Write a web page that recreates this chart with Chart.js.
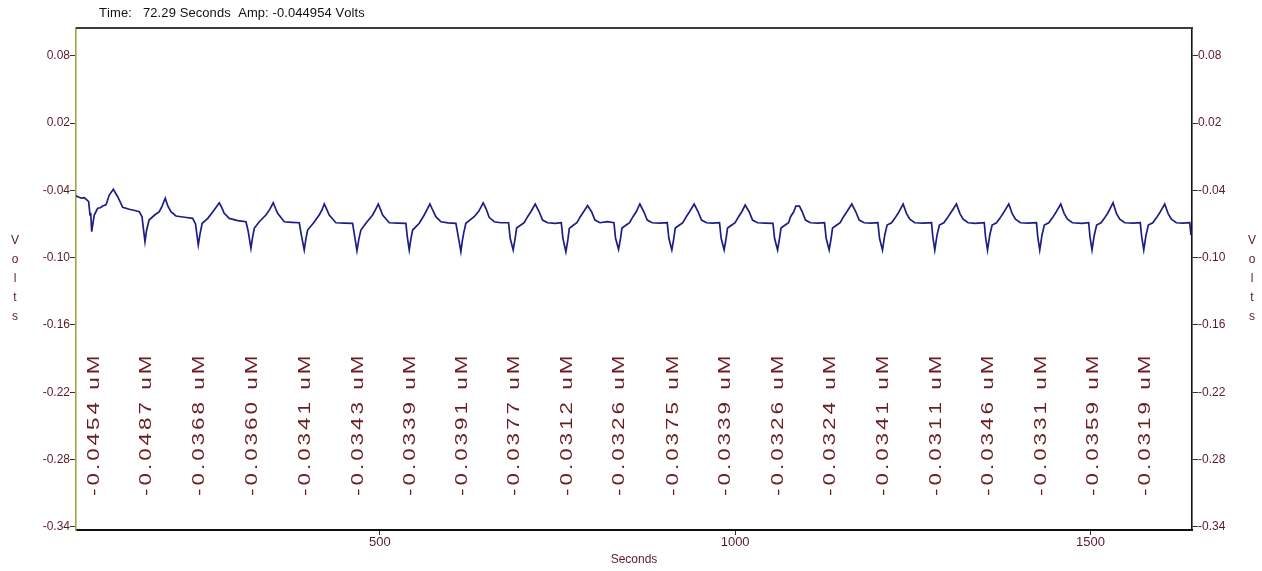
<!DOCTYPE html>
<html>
<head>
<meta charset="utf-8">
<script src="https://cdn.jsdelivr.net/npm/chart.js@4.4.0/dist/chart.umd.min.js"></script>
<style>
  html, body { margin: 0; padding: 0; background: #ffffff; }
  #wrap { width: 1262px; height: 571px; position: relative; }
</style>
</head>
<body>
<div id="wrap"><canvas id="c" width="1262" height="571"></canvas></div>
<script>
// Recorded amperometric trace: time (s) and potential (V)
const traceSeconds = [
  72.29, 76.5, 80.0, 84.0, 86.4, 90.1, 92.0, 93.0, 94.4, 96.0, 98.0, 102.8, 106.5, 109.9, 114.5, 119.1, 124.8, 131.0, 138.0, 147.3, 155.0, 161.4, 165.2, 167.5, 169.4,
  171.5, 175.1, 183.0, 189.5, 193.5, 197.9, 201.5, 205.9, 213.0, 225.0, 236.5, 240.5, 244.4,
  246.8, 249.9, 257.8, 264.9, 269.5, 273.9, 277.5, 280.9, 288.0, 300.0, 311.5, 314.5, 318.5,
  320.8, 323.2, 330.2, 339.6, 345.0, 349.9, 353.0, 356.1, 365.4, 376.0, 386.5, 389.5, 393.5,
  395.9, 398.3, 406.2, 414.6, 418.5, 421.7, 425.2, 428.7, 438.1, 450.0, 461.6, 464.5, 467.7,
  470.5, 473.3, 480.3, 489.8, 494.0, 497.7, 500.8, 503.9, 513.2, 525.0, 536.6, 538.5, 541.3,
  543.7, 546.1, 555.4, 562.4, 566.5, 570.4, 574.6, 578.8, 585.9, 596.0, 607.0, 610.5, 614.0,
  616.0, 618.2, 621.0, 632.7, 639.3, 645.4, 649.2, 653.8, 660.9, 670.0, 681.1, 683.4, 687.6,
  690.4, 692.4, 698.4, 703.1, 707.9, 712.5, 718.6, 724.2, 729.0, 736.0, 747.0, 755.3, 757.6, 761.8,
  764.6, 766.6, 772.6, 777.3, 782.1, 786.7, 792.3, 797.9, 802.7, 809.7, 820.0, 829.4, 831.7, 835.9,
  838.7, 840.7, 846.7, 851.4, 856.2, 860.8, 865.9, 871.5, 876.3, 883.3, 894.0, 904.4, 906.7, 910.9,
  913.7, 915.7, 921.7, 926.4, 931.2, 935.8, 942.3, 947.9, 952.7, 959.7, 968.0, 978.0, 980.3, 984.5,
  987.3, 989.3, 995.3, 1000.0, 1004.8, 1009.4, 1014.1, 1019.7, 1024.5, 1031.5, 1042.0, 1053.2, 1055.5, 1059.7,
  1062.5, 1064.5, 1070.5, 1075.2, 1078.0, 1082.5, 1085.5, 1090.5, 1094.5, 1099.0, 1106.0, 1116.0, 1125.8, 1128.1, 1132.3,
  1135.1, 1137.1, 1143.1, 1147.8, 1152.6, 1157.2, 1164.2, 1169.8, 1174.6, 1181.6, 1191.0, 1200.9, 1203.2, 1207.4,
  1210.6, 1213.9, 1220.1, 1224.7, 1229.4, 1236.4, 1241.1, 1245.8, 1252.8, 1265.0, 1276.4, 1278.2, 1281.0,
  1284.2, 1287.5, 1293.7, 1298.3, 1303.0, 1311.5, 1316.2, 1320.9, 1327.9, 1338.0, 1350.6, 1352.4, 1355.2,
  1358.4, 1361.7, 1367.9, 1372.5, 1377.2, 1385.1, 1389.8, 1394.5, 1401.5, 1412.0, 1424.1, 1425.9, 1428.7,
  1431.9, 1435.2, 1441.4, 1446.0, 1450.7, 1458.3, 1463.0, 1467.7, 1474.7, 1488.0, 1497.6, 1499.4, 1502.3,
  1505.5, 1508.8, 1515.0, 1519.6, 1524.3, 1531.9, 1536.6, 1541.3, 1548.3, 1560.0, 1570.2, 1572.2, 1575.1,
  1578.3, 1581.6, 1587.8, 1592.4, 1597.1, 1604.6, 1609.3, 1614.0, 1621.0, 1630.0, 1639.8, 1641.5
];
const traceVolts = [
  -0.044954, -0.0462, -0.0470, -0.0466, -0.0478, -0.0500, -0.0620, -0.0600, -0.0769, -0.0700, -0.0620, -0.0560, -0.0555, -0.0540, -0.0530, -0.0442, -0.0391, -0.0457, -0.0552, -0.0569, -0.0580, -0.0591, -0.0635, -0.0760, -0.0858,
  -0.0760, -0.0665, -0.0620, -0.0591, -0.0540, -0.0471, -0.0540, -0.0591, -0.0629, -0.0640, -0.0650, -0.0700, -0.0888,
  -0.0790, -0.0694, -0.0650, -0.0591, -0.0550, -0.0511, -0.0555, -0.0605, -0.0650, -0.0670, -0.0680, -0.0760, -0.0917,
  -0.0820, -0.0739, -0.0680, -0.0620, -0.0570, -0.0511, -0.0560, -0.0605, -0.0680, -0.0685, -0.0689, -0.0800, -0.0932,
  -0.0830, -0.0754, -0.0694, -0.0620, -0.0575, -0.0522, -0.0570, -0.0620, -0.0689, -0.0692, -0.0694, -0.0810, -0.0938,
  -0.0830, -0.0754, -0.0694, -0.0620, -0.0570, -0.0522, -0.0570, -0.0620, -0.0689, -0.0692, -0.0694, -0.0810, -0.0932,
  -0.0830, -0.0754, -0.0694, -0.0620, -0.0570, -0.0522, -0.0580, -0.0635, -0.0680, -0.0690, -0.0694, -0.0820, -0.0947,
  -0.0850, -0.0772, -0.0694, -0.0635, -0.0585, -0.0511, -0.0560, -0.0641, -0.0680, -0.0689, -0.0689, -0.0828, -0.0932,
  -0.0828, -0.0736, -0.0709, -0.0689, -0.0635, -0.0591, -0.0522, -0.0591, -0.0665, -0.0689, -0.0694, -0.0689, -0.0828, -0.0947,
  -0.0840, -0.0740, -0.0709, -0.0689, -0.0635, -0.0591, -0.0536, -0.0591, -0.0665, -0.0689, -0.0680, -0.0689, -0.0828, -0.0926,
  -0.0828, -0.0736, -0.0709, -0.0689, -0.0635, -0.0591, -0.0522, -0.0591, -0.0665, -0.0689, -0.0692, -0.0689, -0.0828, -0.0932,
  -0.0828, -0.0736, -0.0709, -0.0689, -0.0635, -0.0591, -0.0522, -0.0591, -0.0665, -0.0689, -0.0692, -0.0689, -0.0828, -0.0932,
  -0.0828, -0.0736, -0.0709, -0.0689, -0.0635, -0.0591, -0.0531, -0.0591, -0.0665, -0.0689, -0.0692, -0.0694, -0.0828, -0.0932,
  -0.0828, -0.0736, -0.0709, -0.0689, -0.0635, -0.0591, -0.0540, -0.0540, -0.0591, -0.0665, -0.0689, -0.0692, -0.0689, -0.0828, -0.0932,
  -0.0828, -0.0736, -0.0709, -0.0689, -0.0635, -0.0591, -0.0522, -0.0591, -0.0665, -0.0689, -0.0692, -0.0689, -0.0828, -0.0932,
  -0.0798, -0.0709, -0.0689, -0.0650, -0.0605, -0.0522, -0.0605, -0.0658, -0.0689, -0.0692, -0.0689, -0.0814, -0.0932,
  -0.0798, -0.0709, -0.0689, -0.0650, -0.0605, -0.0522, -0.0605, -0.0658, -0.0689, -0.0694, -0.0689, -0.0814, -0.0932,
  -0.0798, -0.0709, -0.0689, -0.0650, -0.0605, -0.0522, -0.0605, -0.0658, -0.0689, -0.0692, -0.0689, -0.0814, -0.0932,
  -0.0798, -0.0709, -0.0689, -0.0650, -0.0605, -0.0522, -0.0605, -0.0658, -0.0689, -0.0694, -0.0689, -0.0814, -0.0932,
  -0.0798, -0.0709, -0.0689, -0.0650, -0.0605, -0.0511, -0.0605, -0.0658, -0.0689, -0.0692, -0.0689, -0.0814, -0.0932,
  -0.0798, -0.0709, -0.0689, -0.0650, -0.0605, -0.0522, -0.0605, -0.0658, -0.0689, -0.0692, -0.0689, -0.0798
];

// Injection marks and the concentration reported for each
const injectionSeconds = [98.5, 171.5, 246.5, 320.6, 395.6, 469.8, 543.4, 616.1, 689.7, 763.9, 838.0,
                          913.0, 986.6, 1061.8, 1134.4, 1209.5, 1283.1, 1357.3, 1430.8, 1504.4, 1577.2];
const injectionLabels = ['-0.0454 uM', '-0.0487 uM', '-0.0368 uM', '-0.0360 uM', '-0.0341 uM', '-0.0343 uM',
                         '-0.0339 uM', '-0.0391 uM', '-0.0377 uM', '-0.0312 uM', '-0.0326 uM', '-0.0375 uM',
                         '-0.0339 uM', '-0.0326 uM', '-0.0324 uM', '-0.0341 uM', '-0.0311 uM', '-0.0346 uM',
                         '-0.0331 uM', '-0.0359 uM', '-0.0319 uM'];

// Axis ticks and cursor readout
const voltTicks = [0.08, 0.02, -0.04, -0.10, -0.16, -0.22, -0.28, -0.34];
const secondTicks = [500, 1000, 1500];
const readoutTime = 72.29;
const readoutAmp = -0.044954;

const TEXT_RED = '#5a1a26';
const LABEL_RED = '#6a1c22';
const FONT = '"Liberation Sans", Arial, sans-serif';

const points = traceSeconds.map((t, i) => ({ x: t, y: traceVolts[i] }));

function drawSpaced(ctx, text, x, y, sx, gap) {
  ctx.save();
  ctx.translate(x, y);
  ctx.scale(sx, 1);
  let pos = 0;
  for (const ch of text) {
    ctx.fillText(ch, pos, 0);
    pos += ctx.measureText(ch).width + gap / sx;
  }
  ctx.restore();
}

const decorations = {
  id: 'decorations',
  afterDraw(chart) {
    const { ctx, chartArea: a, scales } = chart;
    ctx.save();

    // frame line along the top of the plot
    ctx.strokeStyle = '#3c3c3c';
    ctx.lineWidth = 2;
    ctx.beginPath();
    ctx.moveTo(a.left, a.top);
    ctx.lineTo(a.right + 1, a.top);
    ctx.stroke();

    // cursor readout
    ctx.fillStyle = '#111111';
    ctx.font = '12px ' + FONT;
    ctx.textBaseline = 'middle';
    ctx.textAlign = 'left';
    drawSpaced(ctx, 'Time:   ' + readoutTime.toFixed(2) + ' Seconds  Amp: ' + readoutAmp.toFixed(6) + ' Volts', 99, 14, 1.08, 0.1);

    // concentration labels at each injection
    ctx.fillStyle = LABEL_RED;
    ctx.font = '16px ' + FONT;
    ctx.textBaseline = 'middle';
    injectionSeconds.forEach((t, i) => {
      const x = scales.x.getPixelForValue(t);
      ctx.save();
      ctx.translate(x, 496);
      ctx.rotate(-Math.PI / 2);
      drawSpaced(ctx, injectionLabels[i], 0, 0, 1.4, 3.0);
      ctx.restore();
    });

    // stacked axis names
    ctx.fillStyle = TEXT_RED;
    ctx.font = '12px ' + FONT;
    ctx.textAlign = 'center';
    const letters = 'Volts'.split('');
    letters.forEach((ch, i) => {
      ctx.fillText(ch, 15, 241 + i * 18.8);
      ctx.fillText(ch, 1252, 241 + i * 18.8);
    });
    ctx.fillText('Seconds', (a.left + a.right) / 2 + 0, 560);

    ctx.restore();
  }
};

const yCommon = (position, width) => ({
  type: 'linear',
  position,
  min: -0.3428,
  max: 0.1047,
  afterBuildTicks: (s) => { s.ticks = voltTicks.map(v => ({ value: v })); },
  afterFit: (s) => { s.width = width; },
  ticks: {
    color: TEXT_RED,
    font: { family: FONT, size: 12 },
    padding: 0,
    callback: (v) => Number(v).toFixed(2)
  },
  grid: { drawOnChartArea: false, drawTicks: true, tickLength: 6, color: '#333333', tickWidth: 1 },
  border: { display: true, color: position === 'left' ? '#a3a346' : '#111111', width: 1.6 }
});

new Chart(document.getElementById('c'), {
  type: 'line',
  data: {
    datasets: [{
      data: points,
      borderColor: '#1d1d86',
      borderWidth: 1.7,
      pointRadius: 0,
      tension: 0,
      fill: false
    }]
  },
  options: {
    responsive: false,
    animation: false,
    devicePixelRatio: 1,
    parsing: false,
    layout: { padding: { top: 28, left: 0, right: 0, bottom: 0 } },
    plugins: { legend: { display: false }, tooltip: { enabled: false }, title: { display: false } },
    scales: {
      x: {
        type: 'linear',
        min: 72.29,
        max: 1643,
        afterBuildTicks: (s) => { s.ticks = secondTicks.map(v => ({ value: v })); },
        afterFit: (s) => { s.height = 41; },
        ticks: { color: TEXT_RED, font: { family: FONT, size: 13 }, padding: 0, maxRotation: 0, callback: (v) => String(v) },
        grid: { drawOnChartArea: false, drawTicks: true, tickLength: 5, color: '#333333' },
        border: { display: true, color: '#111111', width: 2 }
      },
      y: yCommon('left', 76),
      y2: yCommon('right', 70)
    }
  },
  plugins: [decorations]
});
</script>
</body>
</html>
